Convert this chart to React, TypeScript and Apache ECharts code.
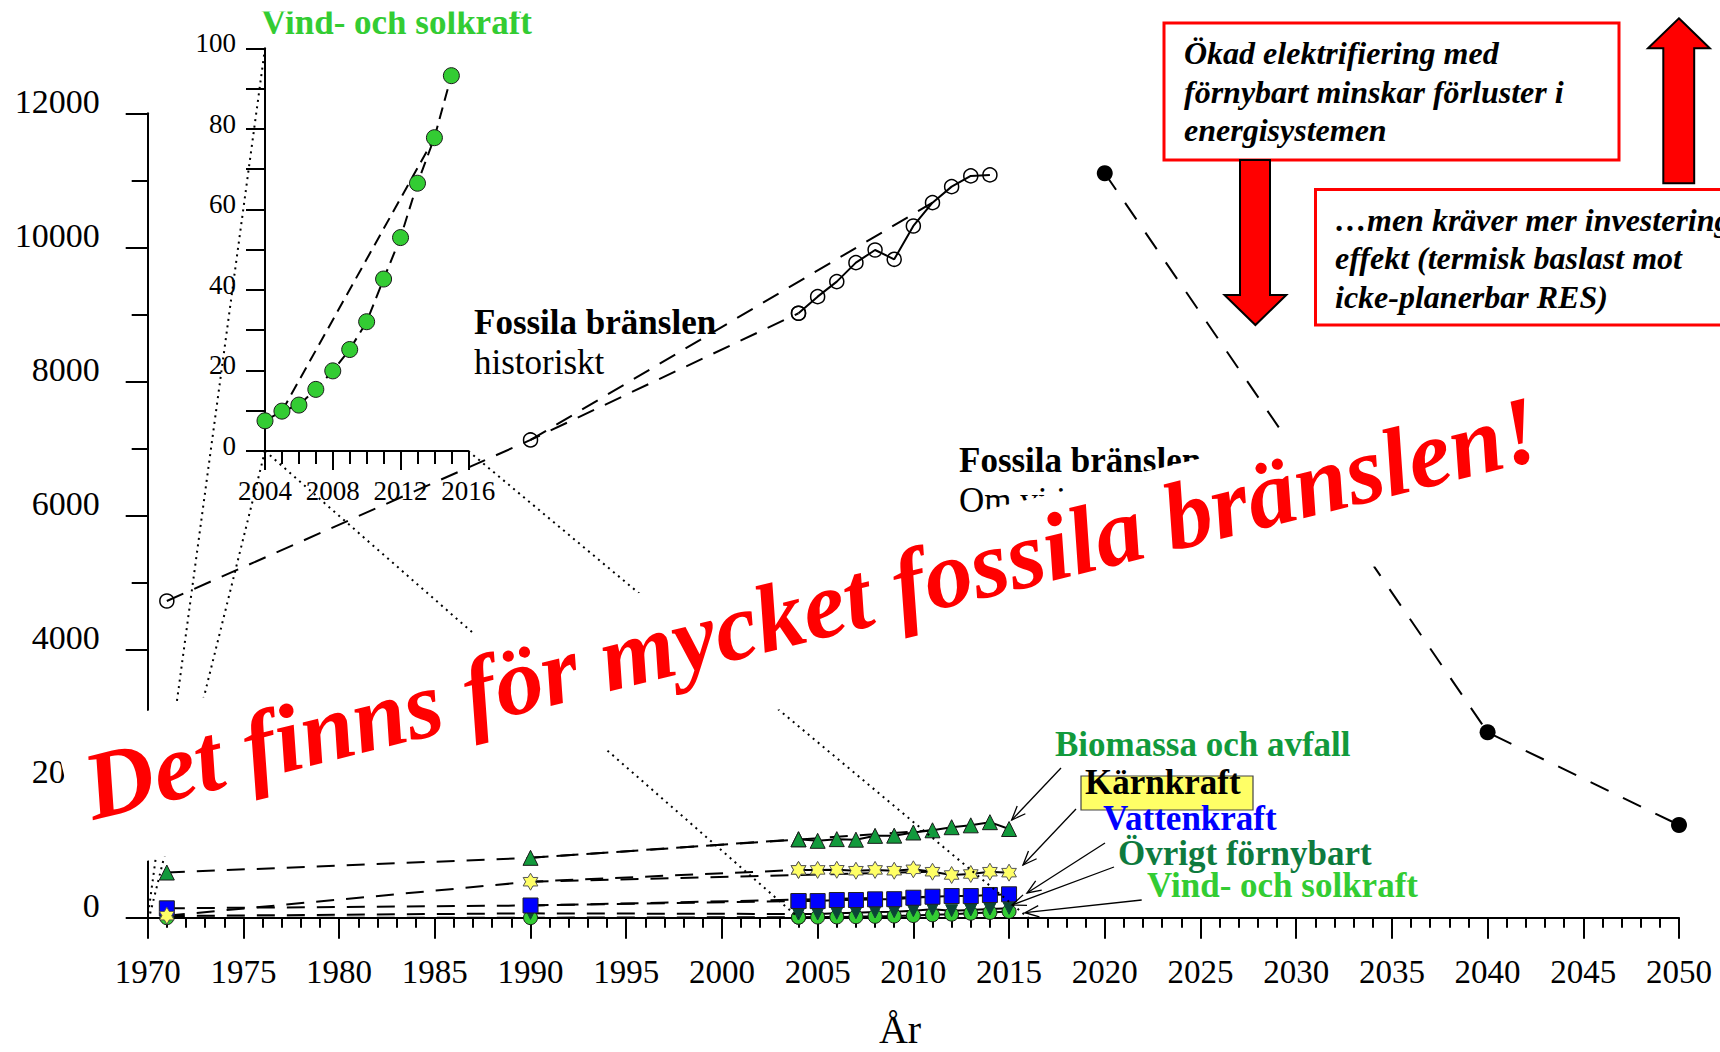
import { useEffect, useRef } from 'react';
import * as echarts from 'echarts';

const FONT = '"Liberation Serif", "Times New Roman", serif';

// ---------- data ----------
const years = [1971, 1990, 2004, 2005, 2006, 2007, 2008, 2009, 2010, 2011, 2012, 2013, 2014, 2015];
const biomass = [674, 893, 1170, 1147, 1172, 1164, 1221, 1224, 1271, 1304, 1350, 1378, 1425, 1323];
const nuclear = [30, 537, 713, 713, 715, 701, 713, 701, 722, 686, 637, 652, 686, 672];
const hydro = [140, 182, 249, 248, 264, 264, 274, 276, 298, 313, 323, 323, 339, 349];
const otherRenewables = [25, 65, 55, 55, 65, 75, 85, 90, 105, 125, 105, 115, 130, 140];
const windSolar = [0, 0.3, 7.5, 9.9, 11.4, 15.3, 19.9, 25.2, 32.1, 42.7, 53.0, 66.5, 77.8, 93.2];

const fossilYears = [1971, 1990, 2004, 2005, 2006, 2007, 2008, 2009, 2010, 2011, 2012, 2013, 2014];
const fossilHistoric = [4725, 7127, 9017, 9265, 9489, 9772, 9961, 9822, 10319, 10667, 10906, 11066, 11081];
const projectionYears = [2020, 2040, 2050];
const fossilProjection = [11106, 2766, 1383];

const insetYears = years.slice(2);
const insetWindSolar = windSolar.slice(2);

const STAR =
  'path://M0,-10L2.887,-5L8.66,-5L5.77,0L8.66,5L2.887,5L0,10L-2.887,5L-8.66,5L-5.77,0L-8.66,-5L-2.887,-5Z';

const pairs = (xs: number[], ys: number[]) => xs.map((x, i) => [x, ys[i]]);

function smallSeries(
  name: string,
  vals: number[],
  symbol: string,
  size: number | number[],
  color: string,
  border: string,
  rotate = 0,
  withTrend = true
) {
  const all = pairs(years, vals);
  const i2011 = years.indexOf(2011);
  const item = { color, borderColor: border, borderWidth: 1 };
  const out: any[] = [];
  if (withTrend) {
    out.push({
      name: name + '-trend',
      type: 'line',
      xAxisIndex: 0,
      yAxisIndex: 0,
      data: [all[1], all[i2011]],
      symbol: 'none',
      lineStyle: { color: '#000', width: 2, type: [18, 12] },
      z: 2,
    });
  }
  out.push({
    name: name + '-early',
    type: 'line',
    xAxisIndex: 0,
    yAxisIndex: 0,
    data: all.slice(0, 3),
    symbol,
    symbolSize: size,
    symbolRotate: rotate,
    symbolKeepAspect: true,
    itemStyle: item,
    lineStyle: { color: '#000', width: 2, type: [18, 12] },
    z: 3,
  });
  out.push({
    name: name,
    type: 'line',
    xAxisIndex: 0,
    yAxisIndex: 0,
    data: all.slice(2),
    symbol,
    symbolSize: size,
    symbolRotate: rotate,
    symbolKeepAspect: true,
    itemStyle: item,
    lineStyle: { color: '#000', width: 2 },
    z: 3,
  });
  return out;
}

function arrow(x1: number, y1: number, x2: number, y2: number, z: number) {
  const ang = Math.atan2(y2 - y1, x2 - x1);
  const L = 15;
  const a = (22 * Math.PI) / 180;
  const p1 = [x2 - L * Math.cos(ang - a), y2 - L * Math.sin(ang - a)];
  const p2 = [x2 - L * Math.cos(ang + a), y2 - L * Math.sin(ang + a)];
  return [
    { type: 'line', shape: { x1, y1, x2, y2 }, style: { stroke: '#000', lineWidth: 1.3 }, z },
    { type: 'polyline', shape: { points: [p1, [x2, y2], p2] }, style: { stroke: '#000', lineWidth: 1.3, fill: null }, z },
  ];
}

function txt(x: number, y: number, text: string, size: number, color: string, weight = 'normal', style = 'normal', z = 50) {
  return {
    type: 'text',
    x,
    y,
    z,
    style: {
      text,
      fontSize: size,
      fontWeight: weight,
      fontStyle: style,
      fontFamily: FONT,
      fill: color,
      align: 'left',
      verticalAlign: 'middle',
      textAlign: 'left',
      textVerticalAlign: 'middle',
    },
  };
}

export default function App() {
  const ref = useRef<HTMLDivElement>(null);

  useEffect(() => {
    if (!ref.current) return;
    const chart = echarts.init(ref.current, null, { renderer: 'svg' });

    const blk = { color: '#000', width: 2 };

    const series: any[] = [
      ...smallSeries('Vind- och solkraft', windSolar, 'circle', 14, '#33cc33', '#1a1a1a', 0, false),
      ...smallSeries('Övrigt förnybart', otherRenewables, 'triangle', 12, '#0b4536', '#0b4536', 180, false),
      ...smallSeries('Vattenkraft', hydro, 'rect', 15, '#0000ff', '#222', 0, true),
      ...smallSeries('Kärnkraft', nuclear, STAR, 17, '#ffff66', '#555', 0, true),
      ...smallSeries('Biomassa och avfall', biomass, 'triangle', 15, '#129a3c', '#1a1a1a', 0, true),
      // fossil historic
      {
        name: 'fossil-trend',
        type: 'line',
        xAxisIndex: 0,
        yAxisIndex: 0,
        data: [
          [fossilYears[1], fossilHistoric[1]],
          [2011, fossilHistoric[fossilYears.indexOf(2011)]],
        ],
        symbol: 'none',
        lineStyle: { color: '#000', width: 2, type: [18, 12] },
      },
      {
        name: 'fossil-early',
        type: 'line',
        xAxisIndex: 0,
        yAxisIndex: 0,
        data: pairs(fossilYears, fossilHistoric).slice(0, 3),
        symbol: 'circle',
        symbolSize: 14,
        itemStyle: { color: 'rgba(255,255,255,0)', borderColor: '#000', borderWidth: 1.5 },
        lineStyle: { color: '#000', width: 2, type: [18, 12] },
      },
      {
        name: 'Fossila bränslen historiskt',
        type: 'line',
        xAxisIndex: 0,
        yAxisIndex: 0,
        data: pairs(fossilYears, fossilHistoric).slice(2),
        symbol: 'circle',
        symbolSize: 14,
        itemStyle: { color: 'rgba(255,255,255,0)', borderColor: '#000', borderWidth: 1.5 },
        lineStyle: { color: '#000', width: 2 },
      },
      {
        name: 'Fossila bränslen prognos',
        type: 'line',
        xAxisIndex: 0,
        yAxisIndex: 0,
        data: pairs(projectionYears, fossilProjection),
        symbol: 'circle',
        symbolSize: 16,
        itemStyle: { color: '#000' },
        lineStyle: { color: '#000', width: 2, type: [20, 16] },
      },
      // inset
      {
        name: 'inset-trend',
        type: 'line',
        xAxisIndex: 1,
        yAxisIndex: 1,
        data: [
          [2005, insetWindSolar[insetYears.indexOf(2005)]],
          [2014, insetWindSolar[insetYears.indexOf(2014)]],
        ],
        symbol: 'none',
        lineStyle: { color: '#000', width: 2, type: [12, 7] },
      },
      {
        name: 'Vind- och solkraft (inzoomad)',
        type: 'line',
        xAxisIndex: 1,
        yAxisIndex: 1,
        data: pairs(insetYears, insetWindSolar),
        symbol: 'circle',
        symbolSize: 16,
        itemStyle: { color: '#33cc33', borderColor: '#1a1a1a', borderWidth: 1 },
        lineStyle: { color: '#000', width: 2, type: [12, 7] },
      },
    ];

    const option: any = {
      animation: false,
      backgroundColor: '#fff',
      grid: [
        { left: 147.7, top: 113.3, right: 41, bottom: 134.3 },
        { left: 265, top: 48.3, width: 203.3, height: 402.7 },
      ],
      xAxis: [
        {
          gridIndex: 0,
          type: 'value',
          min: 1970,
          max: 2050,
          interval: 5,
          axisLine: { show: true, onZero: false, lineStyle: blk },
          axisTick: { show: true, length: 21, lineStyle: blk },
          minorTick: { show: true, splitNumber: 5, length: 10, lineStyle: blk },
          splitLine: { show: false },
          minorSplitLine: { show: false },
          axisLabel: {
            fontFamily: FONT,
            fontSize: 33,
            color: '#000',
            margin: 37,
            lineHeight: 34,
            formatter: (v: number) => String(v),
          },
        },
        {
          gridIndex: 1,
          type: 'value',
          min: 2004,
          max: 2016,
          interval: 4,
          axisLine: { show: true, onZero: false, lineStyle: blk },
          axisTick: { show: true, length: 19, lineStyle: blk },
          minorTick: { show: true, splitNumber: 4, length: 13, lineStyle: blk },
          splitLine: { show: false },
          minorSplitLine: { show: false },
          axisLabel: {
            fontFamily: FONT,
            fontSize: 27,
            color: '#000',
            margin: 26,
            lineHeight: 27,
            formatter: (v: number) => String(v),
          },
        },
      ],
      yAxis: [
        {
          gridIndex: 0,
          type: 'value',
          min: 0,
          max: 12000,
          interval: 2000,
          axisLine: { show: true, onZero: false, lineStyle: blk },
          axisTick: { show: true, length: 22, lineStyle: blk },
          minorTick: { show: true, splitNumber: 2, length: 16, lineStyle: blk },
          splitLine: { show: false },
          minorSplitLine: { show: false },
          axisLabel: {
            fontFamily: FONT,
            fontSize: 34,
            color: '#000',
            margin: 48,
            verticalAlign: 'bottom',
            lineHeight: 24,
            formatter: (v: number) => String(v),
          },
        },
        {
          gridIndex: 1,
          type: 'value',
          min: 0,
          max: 100,
          interval: 20,
          axisLine: { show: true, onZero: false, lineStyle: blk },
          axisTick: { show: true, length: 19, lineStyle: blk },
          minorTick: { show: true, splitNumber: 2, length: 19, lineStyle: blk },
          splitLine: { show: false },
          minorSplitLine: { show: false },
          axisLabel: {
            fontFamily: FONT,
            fontSize: 27,
            color: '#000',
            margin: 29,
            verticalAlign: 'bottom',
            lineHeight: 10,
            formatter: (v: number) => String(v),
          },
        },
      ],
      series,
    };

    chart.setOption(option);

    const inset = (p: number[]) => chart.convertToPixel({ xAxisIndex: 1, yAxisIndex: 1 } as any, p) as number[];
    const main = (p: number[]) => chart.convertToPixel({ xAxisIndex: 0, yAxisIndex: 0 } as any, p) as number[];
    const dotted = (a: number[], b: number[]) => ({
      type: 'line',
      z: 40,
      shape: { x1: a[0], y1: a[1], x2: b[0], y2: b[1] },
      style: { stroke: '#000', lineWidth: 2, lineDash: [2, 4.5] },
    });

    const textDeg = (14 * Math.PI) / 180;
    const boxDeg = (13.5 * Math.PI) / 180;
    const boxTan = Math.tan(boxDeg);
    // white backing box: top edge passes through (147.7, 710.7)
    const boxX = 54;
    const boxY = 710.7 + (147.7 - boxX) * boxTan;

    const graphic: any[] = [
      // zoom connector lines
      dotted(inset([2004, 100]), main([1970, 0])),
      dotted(inset([2004, 0]), main([1970.1, 30])),
      dotted(inset([2004, 0]), main([2004, 0])),
      dotted(inset([2016, 0]), main([2016, 0])),
      // inset title (top clipped)
      txt(261, 22, 'Vind- och solkraft', 35, '#33cc33', 'bold', 'normal', 60),
      { type: 'rect', z: 61, shape: { x: 250, y: 0, width: 300, height: 11.5 }, style: { fill: '#fff' } },
      // fossil labels
      txt(474, 322, 'Fossila bränslen', 35, '#000', 'bold'),
      txt(474, 362, 'historiskt', 35, '#000'),
      txt(959, 460, 'Fossila bränslen', 35, '#000', 'bold'),
      txt(959, 500, 'Om vi inte gör något', 35, '#000'),
      // series labels
      txt(1055, 744, 'Biomassa och avfall', 35, '#129a3c', 'bold'),
      {
        type: 'rect',
        z: 49,
        shape: { x: 1081, y: 776, width: 172, height: 34 },
        style: { fill: '#ffff66', stroke: '#444', lineWidth: 1.2 },
      },
      txt(1085, 782, 'Kärnkraft', 35, '#000', 'bold'),
      txt(1103, 818, 'Vattenkraft', 35, '#0000ff', 'bold'),
      txt(1118, 853, 'Övrigt förnybart', 35, '#0e7a3e', 'bold'),
      txt(1147, 885, 'Vind- och solkraft', 35, '#33cc33', 'bold'),
      ...arrow(1061, 768, 1011.7, 820, 50),
      ...arrow(1076, 809, 1023, 865, 50),
      ...arrow(1105, 843, 1027, 893, 50),
      ...arrow(1114, 867, 1012, 905, 50),
      ...arrow(1141.7, 900, 1025, 912.7, 50),
      // top-right boxes
      {
        type: 'rect',
        z: 50,
        shape: { x: 1164, y: 23, width: 455, height: 137 },
        style: { fill: '#fff', stroke: '#ff0000', lineWidth: 3 },
      },
      txt(1184, 53.3, 'Ökad elektrifiering med', 32, '#000', 'bold', 'italic', 51),
      txt(1184, 92, 'förnybart minskar förluster i', 32, '#000', 'bold', 'italic', 51),
      txt(1184, 130, 'energisystemen', 32, '#000', 'bold', 'italic', 51),
      {
        type: 'rect',
        z: 50,
        shape: { x: 1315.5, y: 189.5, width: 420, height: 135.5 },
        style: { fill: '#fff', stroke: '#ff0000', lineWidth: 3 },
      },
      txt(1335, 220, '…men kräver mer investeringar i', 32, '#000', 'bold', 'italic', 51),
      txt(1335, 258.3, 'effekt (termisk baslast mot', 32, '#000', 'bold', 'italic', 51),
      txt(1335, 296.7, 'icke-planerbar RES)', 32, '#000', 'bold', 'italic', 51),
      {
        type: 'polygon',
        z: 52,
        shape: {
          points: [
            [1240, 160],
            [1270, 160],
            [1270, 295],
            [1286.3, 295],
            [1255.4, 325],
            [1224.5, 295],
            [1240, 295],
          ],
        },
        style: { fill: '#ff0000', stroke: '#000', lineWidth: 2 },
      },
      {
        type: 'polygon',
        z: 52,
        shape: {
          points: [
            [1678.9, 18.3],
            [1709.8, 48.3],
            [1694.2, 48.3],
            [1694.2, 183.3],
            [1663.3, 183.3],
            [1663.3, 48.3],
            [1648, 48.3],
          ],
        },
        style: { fill: '#ff0000', stroke: '#000', lineWidth: 2 },
      },
      // axis title
      {
        type: 'text',
        x: 900,
        y: 1029,
        z: 50,
        style: {
          text: 'År',
          fontSize: 40,
          fontFamily: FONT,
          fill: '#000',
          align: 'center',
          verticalAlign: 'middle',
          textAlign: 'center',
          textVerticalAlign: 'middle',
        },
      },
      // white backing box under the banner
      {
        type: 'group',
        x: boxX,
        y: boxY,
        rotation: boxDeg,
        z: 100,
        children: [
          {
            type: 'rect',
            z: 100,
            shape: { x: 0, y: 0, width: 1550, height: 150 * Math.cos(boxDeg) },
            style: { fill: '#fff' },
          },
        ],
      },
      // rotated banner text
      {
        type: 'group',
        x: 54,
        y: 734.2,
        rotation: textDeg,
        z: 101,
        children: [
          {
            type: 'text',
            x: 17.6,
            y: 60.4,
            z: 101,
            style: {
              text: 'Det finns för mycket fossila bränslen!',
              fontSize: 96,
              fontWeight: 'bold',
              fontStyle: 'italic',
              fontFamily: FONT,
              fill: '#ff0000',
              align: 'left',
              verticalAlign: 'middle',
              textAlign: 'left',
              textVerticalAlign: 'middle',
            },
          },
        ],
      },
    ];

    chart.setOption({ graphic });

    return () => chart.dispose();
  }, []);

  return (
    <div
      ref={ref}
      style={{ position: 'fixed', left: 0, top: 0, width: 1720, height: 1052, background: '#fff' }}
    />
  );
}
